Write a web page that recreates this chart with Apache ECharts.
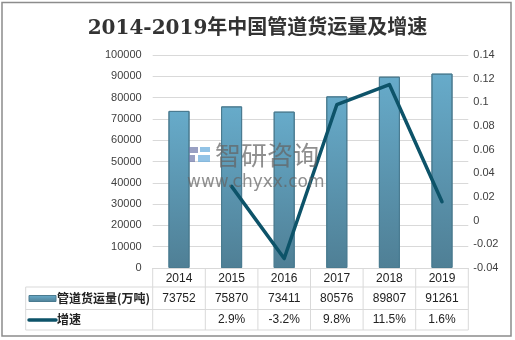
<!DOCTYPE html>
<html>
<head>
<meta charset="utf-8">
<script src="https://cdn.jsdelivr.net/npm/echarts@6/dist/echarts.min.js"></script>
<style>
  html, body { margin: 0; padding: 0; background: #fff; }
  #chart { width: 515px; height: 340px; }
</style>
</head>
<body>
<div id="chart"></div>
<script>
// Pipeline freight volume (10k tonnes) and year-on-year growth
const years = ['2014', '2015', '2016', '2017', '2018', '2019'];
const volume = [73752, 75870, 73411, 80576, 89807, 91261];
const growth = [null, 0.029, -0.032, 0.098, 0.115, 0.016];
const growthLabels = ['', '2.9%', '-3.2%', '9.8%', '11.5%', '1.6%'];
const volumeName = '管道货运量(万吨)';
const growthName = '增速';
const titleText = '2014-2019年中国管道货运量及增速';

const LEFT = 152.7, RIGHT = 468.3, TOP = 55, BOTTOM = 268;
const gridColor = '#d9d9d9';
const labelFont = '"Liberation Sans", "Noto Sans CJK SC", sans-serif';
const cjkFont = '"Noto Sans CJK SC", "Liberation Sans", sans-serif';

const chart = echarts.init(document.getElementById('chart'), null, { renderer: 'canvas' });

const barColor = new echarts.graphic.LinearGradient(0, 0, 0, 1, [
  { offset: 0, color: '#67abca' },
  { offset: 1, color: '#4f7f95' }
]);

chart.setOption({
  animation: false,
  backgroundColor: '#fff',
  title: {
    text: titleText,
    left: 'center',
    top: 14,
    textStyle: {
      fontFamily: '"DejaVu Serif", "Noto Sans CJK SC", serif',
      fontSize: 20,
      fontWeight: 'bold',
      color: '#333'
    }
  },
  grid: { left: LEFT, right: 515 - RIGHT, top: TOP, bottom: 340 - BOTTOM },
  xAxis: {
    type: 'category',
    data: years,
    axisLine: { show: true, lineStyle: { color: gridColor } },
    axisTick: { show: false },
    axisLabel: { margin: 5, fontSize: 12, color: '#222', fontFamily: labelFont }
  },
  yAxis: [
    {
      type: 'value', min: 0, max: 100000, interval: 10000,
      axisLine: { show: false }, axisTick: { show: false },
      splitLine: { lineStyle: { color: gridColor } },
      axisLabel: {
        margin: 11, fontSize: 11, color: '#404040', fontFamily: labelFont,
        formatter: v => String(v)
      }
    },
    {
      type: 'value', min: -0.04, max: 0.14, interval: 0.02,
      axisLine: { show: false }, axisTick: { show: false },
      splitLine: { show: false },
      axisLabel: {
        margin: 5, fontSize: 11, color: '#404040', fontFamily: labelFont,
        formatter: v => String(parseFloat(v.toFixed(2)))
      }
    }
  ],
  series: [
    {
      name: volumeName,
      type: 'bar',
      data: volume,
      barWidth: '40%',
      itemStyle: { color: barColor, borderColor: '#4a7b90', borderWidth: 1 }
    },
    {
      name: growthName,
      type: 'line',
      yAxisIndex: 1,
      data: growth,
      symbol: 'none',
      connectNulls: false,
      lineStyle: { color: '#0d5369', width: 3.5, cap: 'round', join: 'round' },
      z: 5
    }
  ]
});

// Data table under the axis, the watermark and the frame
function buildGraphics() {
  const g = [];
  const r1 = 287, r2 = 309.5, r3 = 330, tableLeft = 25.7;
  const line = (x1, y1, x2, y2, color, w) => ({
    type: 'line', silent: true,
    shape: { x1, y1, x2, y2 },
    style: { stroke: color || gridColor, lineWidth: w || 1 }
  });
  // horizontal rules
  g.push(line(tableLeft, r1, RIGHT, r1));
  g.push(line(tableLeft, r2, RIGHT, r2));
  g.push(line(tableLeft, r3, RIGHT, r3));
  // vertical rules
  g.push(line(tableLeft, r1, tableLeft, r3));
  const step = (RIGHT - LEFT) / years.length;
  for (let i = 0; i <= years.length; i++) {
    const x = LEFT + step * i;
    g.push(line(x, BOTTOM, x, r3));
  }
  // cell values
  years.forEach((y, i) => {
    const cx = chart.convertToPixel({ xAxisIndex: 0 }, y);
    g.push({
      type: 'text', silent: true,
      style: {
        x: cx, y: (r1 + r2) / 2, text: String(volume[i]),
        textAlign: 'center', textVerticalAlign: 'middle',
        font: '12px ' + labelFont, fill: '#222'
      }
    });
    g.push({
      type: 'text', silent: true,
      style: {
        x: cx, y: (r2 + r3) / 2, text: growthLabels[i],
        textAlign: 'center', textVerticalAlign: 'middle',
        font: '12px ' + labelFont, fill: '#222'
      }
    });
  });
  // row headers with swatches
  g.push({
    type: 'rect', silent: true,
    shape: { x: 29, y: 295.5, width: 27, height: 6 },
    style: {
      fill: new echarts.graphic.LinearGradient(0, 0, 0, 1, [
        { offset: 0, color: '#6aaecd' }, { offset: 1, color: '#4f7f95' }
      ]),
      stroke: '#4a7b90', lineWidth: 1
    }
  });
  g.push({
    type: 'text', silent: true,
    style: {
      x: 57, y: (r1 + r2) / 2, text: volumeName,
      textVerticalAlign: 'middle', font: 'bold 12px ' + cjkFont, fill: '#222'
    }
  });
  g.push({
    type: 'line', silent: true,
    shape: { x1: 29, y1: 320, x2: 56, y2: 320 },
    style: { stroke: '#0d5369', lineWidth: 3.5, lineCap: 'round' }
  });
  g.push({
    type: 'text', silent: true,
    style: {
      x: 57, y: (r2 + r3) / 2, text: growthName,
      textVerticalAlign: 'middle', font: 'bold 12px ' + cjkFont, fill: '#222'
    }
  });
  // watermark, drawn above the bars
  const wm = [
    { type: 'rect', shape: { x: 189, y: 147, width: 9, height: 6 }, style: { fill: 'rgba(110,120,170,0.7)' } },
    { type: 'rect', shape: { x: 189, y: 155, width: 6, height: 7 }, style: { fill: 'rgba(110,120,170,0.7)' } },
    { type: 'rect', shape: { x: 200, y: 147, width: 10, height: 5 }, style: { fill: 'rgba(100,170,220,0.7)' } },
    { type: 'rect', shape: { x: 198, y: 155, width: 12, height: 7 }, style: { fill: 'rgba(100,170,220,0.7)' } },
    {
      type: 'text',
      style: {
        x: 215, y: 155, text: '智研咨询', textVerticalAlign: 'middle',
        font: '26px ' + cjkFont, fill: 'rgba(100,100,100,0.72)'
      }
    },
    {
      type: 'text',
      style: {
        x: 187, y: 183, text: 'www.chyxx.com', textVerticalAlign: 'middle',
        font: '17px "DejaVu Sans", sans-serif', fill: 'rgba(100,100,100,0.72)'
      }
    }
  ];
  wm.forEach(el => { el.silent = true; el.z = 100; g.push(el); });
  // outer frame
  g.push({
    type: 'rect', silent: true,
    shape: { x: 2, y: 2.5, width: 509, height: 333.5 },
    style: { fill: 'none', stroke: '#8c8c8c', lineWidth: 1.5 }
  });
  return g;
}

chart.setOption({ graphic: buildGraphics() });
</script>
</body>
</html>
